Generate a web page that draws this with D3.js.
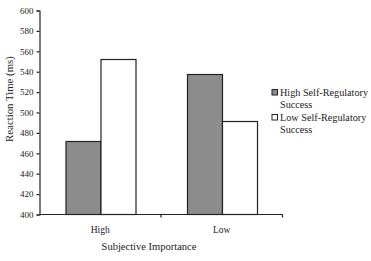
<!DOCTYPE html>
<html>
<head>
<meta charset="utf-8">
<script src="https://cdn.jsdelivr.net/npm/d3@7"></script>
<style>
  body { margin: 0; background: #fff; }
  text { font-family: "Liberation Serif", "Times New Roman", serif; fill: #222; }
</style>
</head>
<body>
<div id="rootDiv"></div>
<script>
const categories = ["High", "Low"]
const series = ["High Self-Regulatory Success", "Low Self-Regulatory Success"]
const highSR = [472, 538]
const lowSR = [552, 492]
const yTicks = [400, 420, 440, 460, 480, 500, 520, 540, 560, 580, 600]
const legendLines = [["High Self-Regulatory", "Success"], ["Low Self-Regulatory", "Success"]]

const colors = ["#8c8c8c", "#ffffff"]
const ink = "#222"

const width = 371
const height = 261
const margin = { top: 10.5, right: 88.5, bottom: 46.5, left: 39.5 }

const svg = d3.select(document.getElementById("rootDiv"))
    .append("svg")
    .attr("width", width)
    .attr("height", height)

const x0 = d3.scaleBand()
    .domain(categories)
    .range([margin.left, width - margin.right])
    .padding(0)

const x1 = d3.scaleBand()
    .domain(series)
    .range([x0.bandwidth() / 2 - 35, x0.bandwidth() / 2 + 35])

const y = d3.scaleLinear()
    .domain([400, 600])
    .range([height - margin.bottom, margin.top])

const rows = categories.map((c, i) => ({ cat: c, values: [highSR[i], lowSR[i]] }))

// bars
const groups = svg.selectAll("g.grp")
    .data(rows)
    .enter()
    .append("g")
    .attr("class", "grp")
    .attr("transform", d => `translate(${x0(d.cat)},0)`)

groups.selectAll("rect")
    .data(d => d.values.map((v, j) => ({ key: series[j], v, j })))
    .enter()
    .append("rect")
    .attr("x", d => Math.round(x1(d.key)) + 0.5)
    .attr("y", d => Math.round(y(d.v)) + 0.5)
    .attr("width", x1.bandwidth())
    .attr("height", d => y(400) - Math.round(y(d.v)) - 0.5)
    .attr("fill", d => colors[d.j])
    .attr("stroke", ink)
    .attr("stroke-width", 1.2)

// Y-axis
const yAxis = svg.append("g")
    .attr("transform", `translate(${margin.left},0)`)
    .call(d3.axisLeft(y).tickValues(yTicks).tickSize(3).tickPadding(3))
yAxis.selectAll("text").style("font-size", "9px").style("font-family", "Liberation Serif")

// X-axis (line + ticks at band edges)
const xAxis = svg.append("g")
    .attr("transform", `translate(0,${y(400)})`)
    .call(d3.axisBottom(x0).tickSize(0).tickPadding(12))
xAxis.select("path.domain").attr("d", `M${margin.left},0H${width - margin.right}`)
xAxis.selectAll("text").style("font-size", "9.5px").style("font-family", "Liberation Serif")

const edges = [x0.range()[0]].concat(categories.map(c => x0(c) + x0.bandwidth()))
xAxis.selectAll("line.edge")
    .data(edges.slice(1))
    .enter()
    .append("line")
    .attr("class", "edge")
    .attr("x1", d => d).attr("x2", d => d)
    .attr("y1", 0).attr("y2", 3)

for (const axis of [xAxis, yAxis]) {
    axis.selectAll("line").style("stroke", ink).style("stroke-width", 1.2)
    axis.selectAll("path").style("stroke", ink).style("stroke-width", 1.2)
    axis.selectAll("text").style("fill", ink)
}

// axis titles
svg.append("text")
    .attr("transform", `translate(13,${(margin.top + y(400)) / 2 - 13.5}) rotate(-90)`)
    .attr("text-anchor", "middle")
    .style("font-size", "10.8px")
    .text("Reaction Time (ms)")

svg.append("text")
    .attr("x", 149)
    .attr("y", 250)
    .attr("text-anchor", "middle")
    .style("font-size", "10.5px")
    .text("Subjective Importance")

// legend
const legend = svg.append("g").attr("transform", "translate(272,89.5)")
const items = legend.selectAll("g")
    .data(series)
    .enter()
    .append("g")
    .attr("transform", (_d, i) => `translate(0,${i * 25})`)
items.append("rect")
    .attr("width", 5.5).attr("height", 5.5)
    .attr("fill", (_d, i) => colors[i])
    .attr("stroke", ink)
items.each(function (_d, i) {
    const t = d3.select(this).append("text")
        .attr("x", 8)
        .attr("y", 6.5)
        .style("font-size", "10.2px")
    t.selectAll("tspan")
        .data(legendLines[i])
        .enter()
        .append("tspan")
        .attr("x", 8)
        .attr("dy", (_l, k) => k === 0 ? 0 : 11.5)
        .text(l => l)
})
</script>
</body>
</html>
